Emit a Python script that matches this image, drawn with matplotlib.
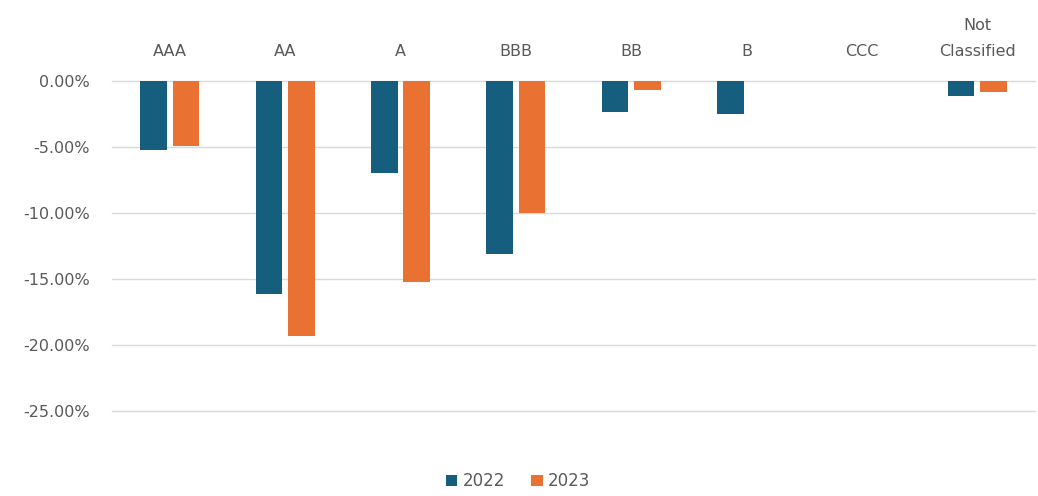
import numpy as np
import matplotlib.pyplot as plt
from matplotlib.ticker import FuncFormatter

categories = ['AAA', 'AA', 'A', 'BBB', 'BB', 'B', 'CCC', 'Not\nClassified']
v2022 = [-5.2, -16.1, -7.0, -13.1, -2.35, -2.5, 0.0, -1.15]
v2023 = [-4.95, -19.3, -15.2, -10.0, -0.7, 0.0, 0.0, -0.85]

c2022 = '#155E7E'
c2023 = '#E97132'
grey = '#595959'

fig = plt.figure(figsize=(10.38, 4.96), dpi=100)
ax = fig.add_axes([0.108, 0.171, 0.889, 0.666])

x = np.arange(len(categories))
w = 0.23
ax.bar(x - 0.14, v2022, w, color=c2022, label='2022', zorder=3)
ax.bar(x + 0.14, v2023, w, color=c2023, label='2023', zorder=3)

ax.set_xlim(-0.5, len(categories) - 0.5)
ax.set_ylim(-25, 0)
ax.set_yticks(np.arange(-25, 1, 5))
ax.yaxis.set_major_formatter(FuncFormatter(lambda v, p: f'{v:.2f}%'))
for t in np.arange(-25, 1, 5):
    ax.axhline(t, color='#D9D9D9', linewidth=1, zorder=0, clip_on=False)
for s in ax.spines.values():
    s.set_visible(False)
ax.tick_params(axis='y', length=0, labelsize=11.5, labelcolor=grey, pad=16)

ax.xaxis.tick_top()
ax.set_xticks(x)
ax.set_xticklabels(categories, linespacing=1.9)
ax.tick_params(axis='x', length=0, labelsize=11.5, labelcolor=grey, pad=16)

ax.legend(loc='lower center', bbox_to_anchor=(0.44, -0.285), ncol=2, frameon=False,
          fontsize=12, labelcolor=grey, handlelength=0.7, handleheight=0.7,
          handletextpad=0.3, columnspacing=1.6)

fig.savefig('out.png', dpi=100)
